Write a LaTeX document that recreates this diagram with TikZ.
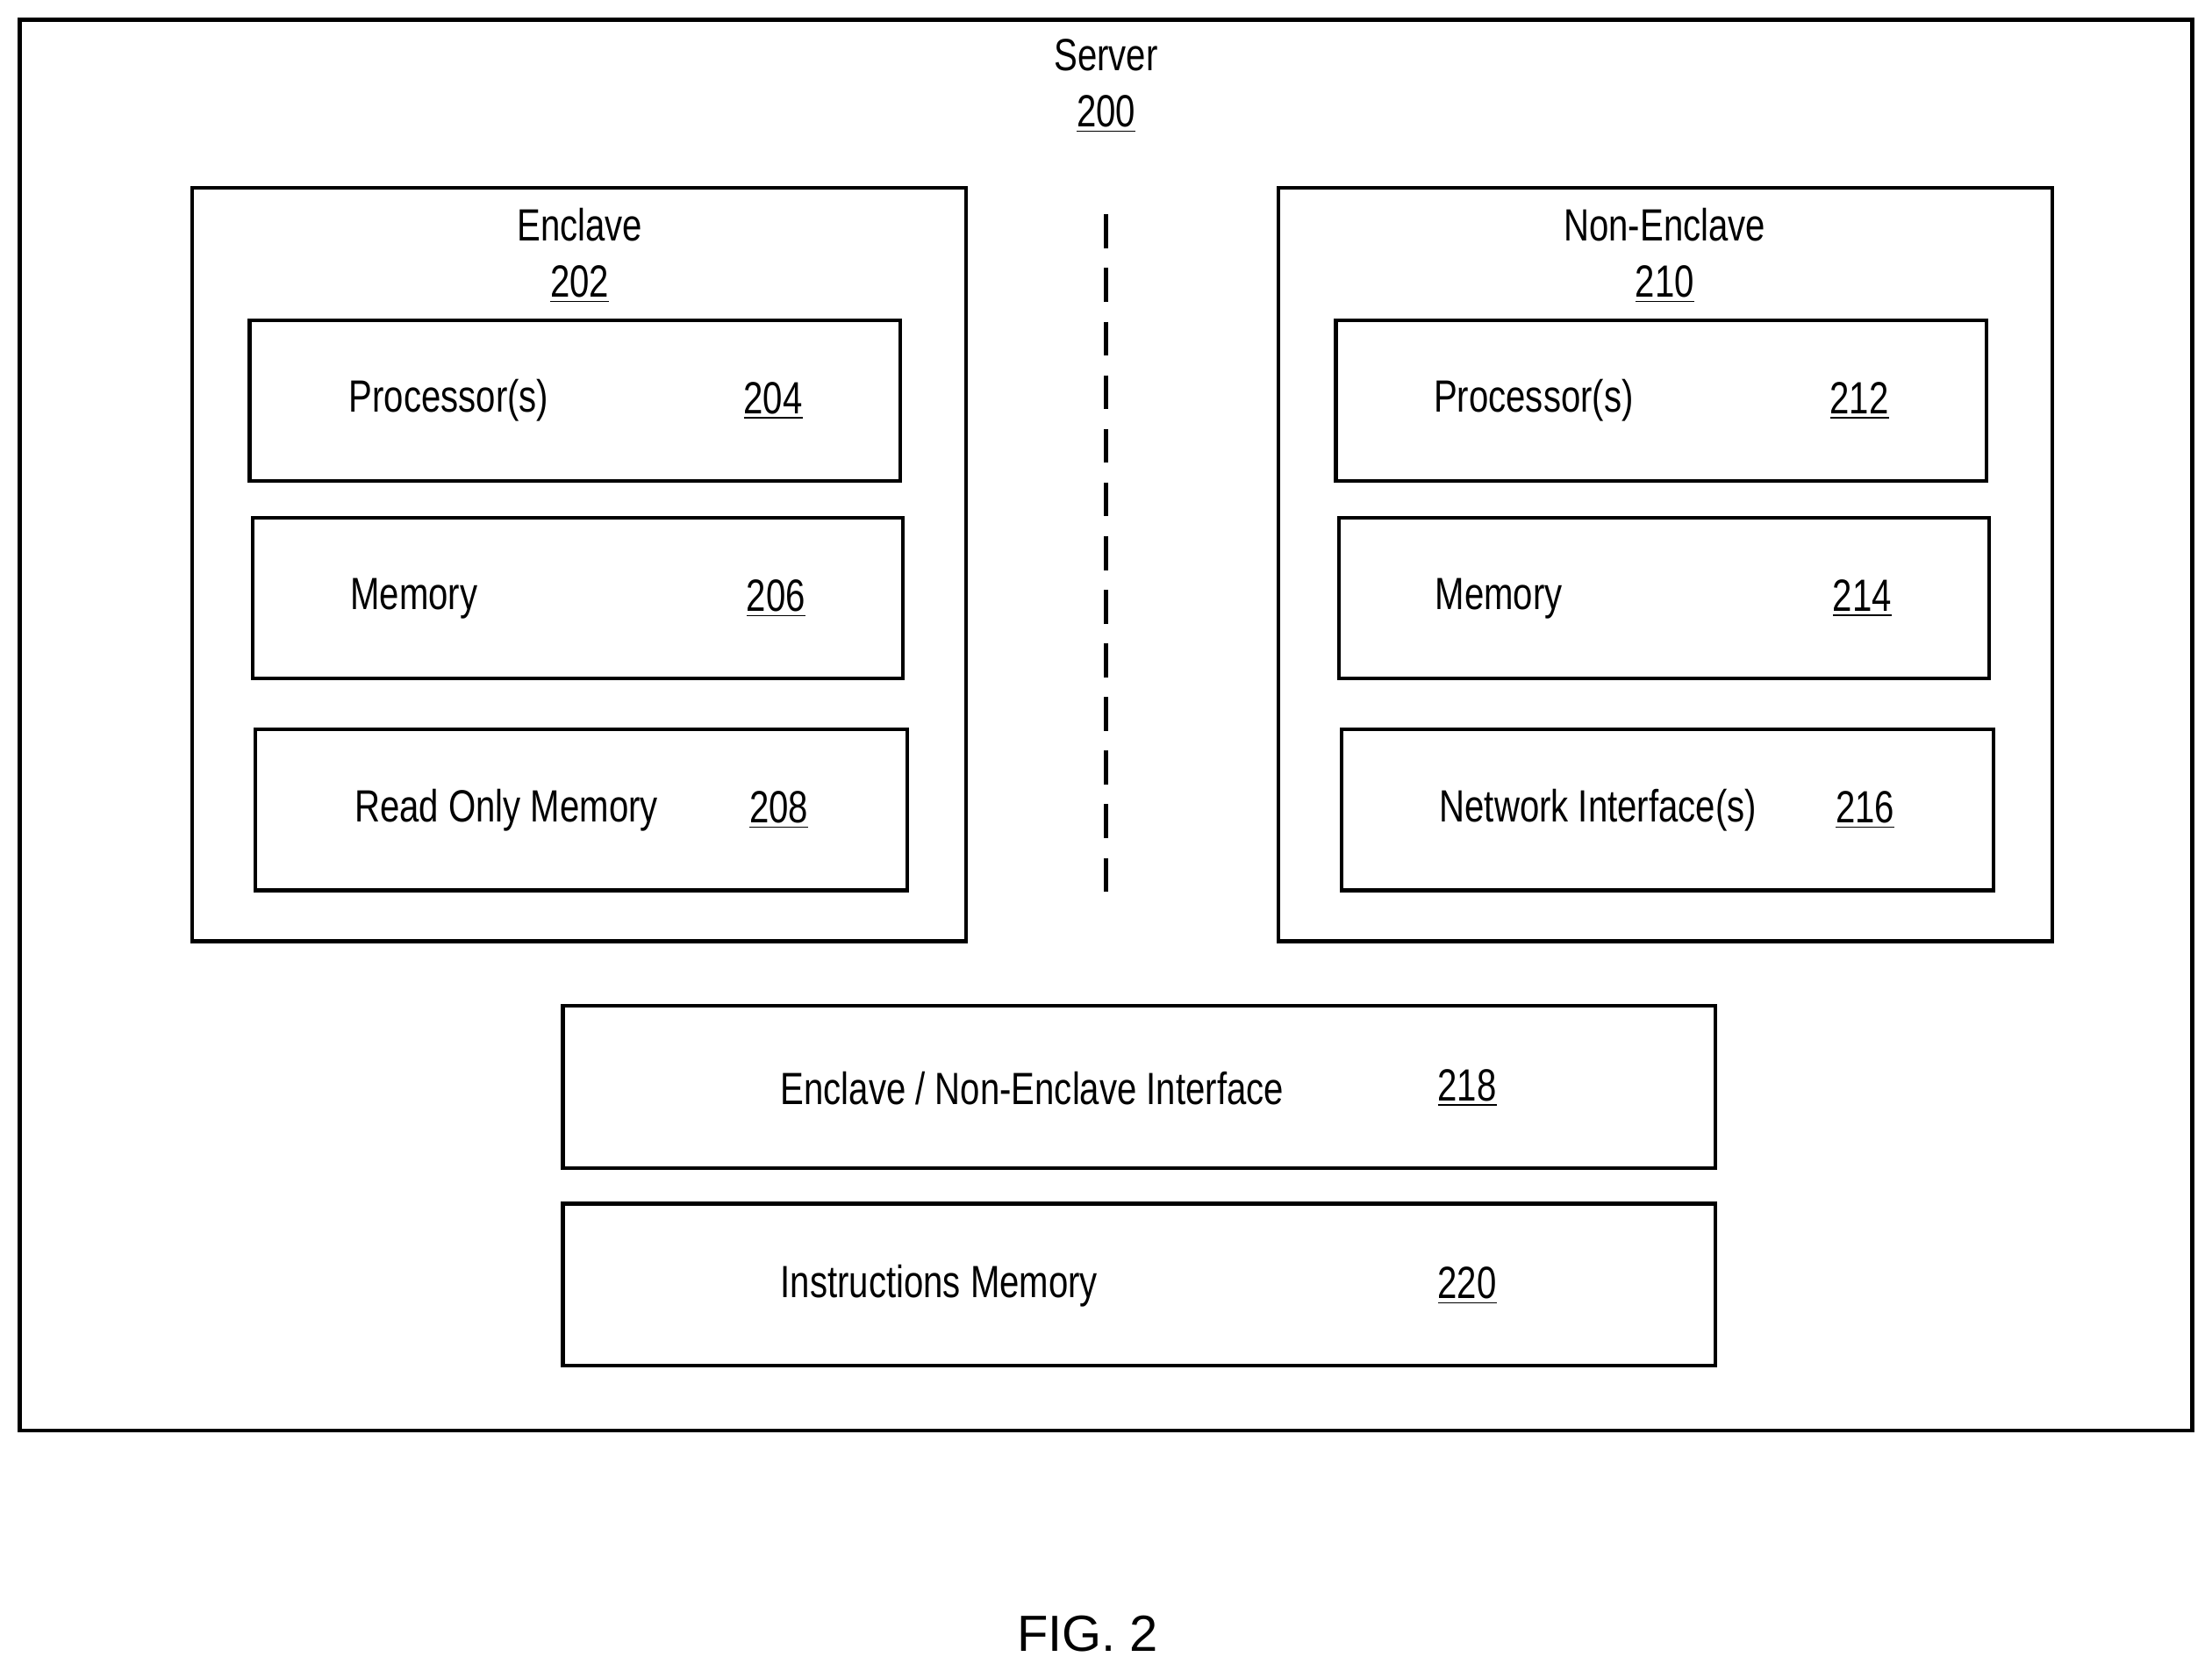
\documentclass[tikz,border=0pt]{standalone}
\usepackage{fontspec}
\setmainfont[FakeStretch=0.78]{Liberation Sans}
\newfontfamily\figfont{Liberation Sans}
\begin{document}
\begin{tikzpicture}[x=0.5pt,y=-0.5pt,
  box/.style={draw,line width=1.3pt},
  lbl/.style={inner sep=0pt,font=\fontsize{16}{19}\selectfont,align=center},
  num/.style={inner sep=0pt,font=\fontsize{16}{19}\selectfont}]
\useasboundingbox (0,0) rectangle (1568,1184);

% Server
\draw [box] (14,14) rectangle (1554,1014);
\node [lbl] (server) at (784,61) {Server\\[1pt]\underline{200}};

% Enclave side
\draw [box] (136,133) rectangle (685,667);
\node [lbl] (encl) at (411,181) {Enclave\\[1pt]\underline{202}};
\draw [box] (177,227) rectangle (638,341);
\node [lbl,anchor=west] (proc) at (247,284) {Processor(s)};
\node [num] (n204) at (548,284) {\underline{204}};
\draw [box] (179,367) rectangle (640,481);
\node [lbl,anchor=west] (mem) at (248,424) {Memory};
\node [num] (n206) at (550,424) {\underline{206}};
\draw [box] (181,517) rectangle (643,631);
\node [lbl,anchor=west] (rom) at (251,574) {Read Only Memory};
\node [num] (n208) at (552,574) {\underline{208}};

% divider
\coordinate (dtop) at (784,152);
\coordinate (dbot) at (784,640);
\draw [line width=1.3pt,dash pattern=on 12pt off 7pt] (dtop) -- (dbot);

% Non-enclave side
\draw [box] (906,133) rectangle (1455,667);
\node [lbl] (nencl) at (1180,181) {Non-Enclave\\[1pt]\underline{210}};
\draw [box] (947,227) rectangle (1408,341);
\node [lbl,anchor=west] (nproc) at (1016,284) {Processor(s)};
\node [num] (n212) at (1318,284) {\underline{212}};
\draw [box] (949,367) rectangle (1410,481);
\node [lbl,anchor=west] (nmem) at (1017,424) {Memory};
\node [num] (n214) at (1320,424) {\underline{214}};
\draw [box] (951,517) rectangle (1413,631);
\node [lbl,anchor=west] (net) at (1020,574) {Network Interface(s)};
\node [num] (n216) at (1322,574) {\underline{216}};

% shared
\draw [box] (399,713) rectangle (1216,828);
\node [lbl,anchor=west] (iface) at (553,771) {Enclave / Non-Enclave Interface};
\node [num] (n218) at (1040,771) {\underline{218}};
\draw [box] (399,853) rectangle (1216,968);
\node [lbl,anchor=west] (imem) at (553,911) {Instructions Memory};
\node [num] (n220) at (1040,911) {\underline{220}};

\node [inner sep=0pt,font=\figfont\fontsize{18}{21}\selectfont] (fig) at (771,1158) {FIG. 2};
\end{tikzpicture}
\end{document}
